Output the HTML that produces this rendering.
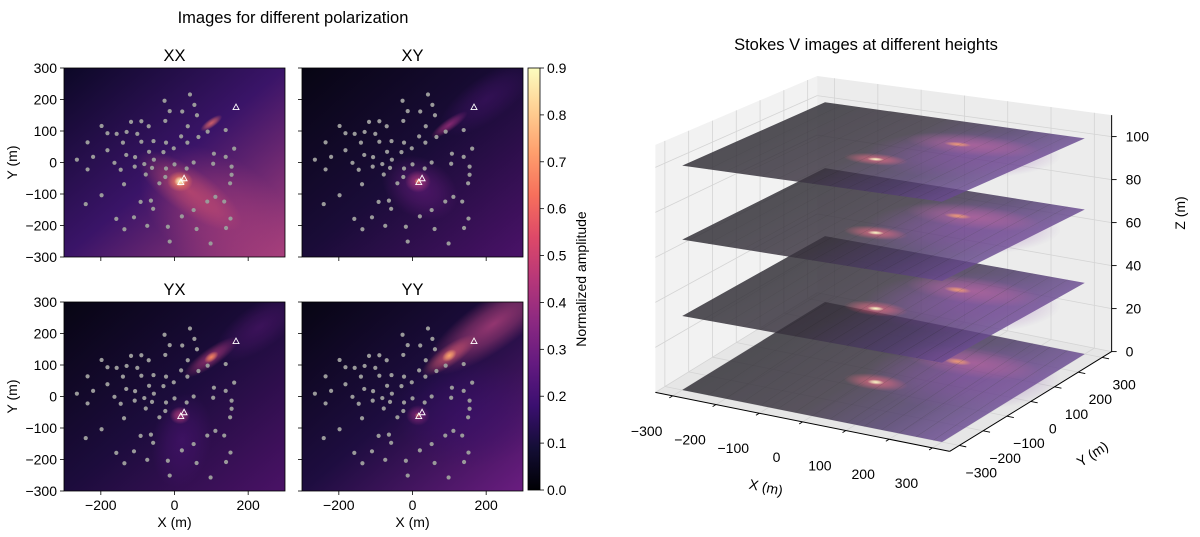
<!DOCTYPE html>
<html><head><meta charset="utf-8"><style>
html,body{margin:0;padding:0;background:#fff;}
svg{display:block;font-family:"Liberation Sans","DejaVu Sans",sans-serif;}
</style></head><body>
<svg id="fig" width="1200" height="537" viewBox="0 0 1200 537" xmlns="http://www.w3.org/2000/svg">
<defs id="defs">
<linearGradient id="magma" x1="0" y1="1" x2="0" y2="0">
<stop offset="0" stop-color="#000004"/><stop offset="0.1" stop-color="#140e36"/><stop offset="0.2" stop-color="#3b0f70"/><stop offset="0.3" stop-color="#641a80"/><stop offset="0.4" stop-color="#8c2981"/><stop offset="0.5" stop-color="#b73779"/><stop offset="0.6" stop-color="#de4968"/><stop offset="0.7" stop-color="#f7705c"/><stop offset="0.8" stop-color="#fe9f6d"/><stop offset="0.9" stop-color="#fecf92"/><stop offset="1" stop-color="#fcfdbf"/>
</linearGradient>
</defs>
<text x="293" y="23" font-size="16.5" text-anchor="middle">Images for different polarization</text>
<text x="866" y="50" font-size="16.5" text-anchor="middle">Stokes V images at different heights</text>
<g id="left"></g>
<g id="cbar"></g>
<g id="threed"></g>
</svg>
<script>
const NS="http://www.w3.org/2000/svg";
// ---- data ----
const stationX=[-265,-236,-236,-221,-198,-182,-182,-198,-241,-157,-163,-146,-140,-130,-131,-137,-118,-107,-108,-101,-90,-90,-82,-78,-70,-69,-57,-56,-61,-41,-30,-27,-25,-23,-23,-25,-13,-2,0,18,21,35,33,36,42,54,61,65,52,90,107,105,139,139,162,155,155,151,-158,-136,-110,-74,-92,-64,-58,-18,-13,20,52,60,89,111,98,135,140,152];
const stationY=[9,64,-22,18,116,93,39,-104,-132,91,-1,-23,63,97,24,-69,129,17,-13,91,131,66,-5,-38,115,34,68,9,-17,-66,33,196,132,63,-19,-46,163,45,-6,83,162,63,-19,115,216,183,150,81,0,98,28,-4,103,18,44,-13,-39,-66,-179,-212,-174,-201,-125,-121,-147,-204,-251,-171,-151,-211,-124,-109,-257,-124,-208,-178];
const triX=[167,26,17];
const triY=[176,-50,-62];
const panelNames=["XX","XY","YX","YY"];
// blobs: [x,y,rx,ry,rot,color,opacity]
const blobsXX=[[120,-160,240,150,35,"#b0407a",0.55],[40,-90,170,60,35,"#e0586c",0.55],[15,-60,35,28,0,"#f7805c",0.9],[15,-60,16,14,0,"#fcfdbf",1],[100,125,35,12,-35,"#f0706a",0.8]];
const blobsXY=[[20,-80,110,80,30,"#6a1d80",0.6],[15,-60,35,30,0,"#b03a7c",0.85],[15,-60,10,9,0,"#f7905c",0.9],[100,120,60,16,-35,"#a8327e",0.8],[200,200,150,60,-35,"#4a1470",0.5]];
const blobsYX=[[20,-140,80,130,10,"#4a1472",0.6],[15,-60,28,24,0,"#c04080",0.8],[100,125,90,25,-35,"#b03a7c",0.75],[100,125,22,12,-35,"#fa8a5e",0.95],[230,220,140,60,-35,"#5a1876",0.5]];
const blobsYY=[[220,230,220,70,-35,"#b0407c",0.8],[100,130,90,28,-35,"#d85a70",0.75],[100,130,22,14,-35,"#fdaa6c",0.95],[15,-60,32,28,0,"#a8327e",0.75],[15,-60,9,8,0,"#f7805c",0.9],[150,-50,200,150,0,"#3b0f70",0.5]];
const panelBlobs=[blobsXX,blobsXY,blobsYX,blobsYY];
const panelBase=[["#0c0826","#3a1468","#a8407c"],["#070513","#1a0c38","#4a1268"],["#070513","#1c0c3c","#4a1266"],["#070513","#1e0d40","#6a1d80"]];
const tickVals=[-300,-200,-100,0,100,200,300];
const xTickVals=[-200,0,200];
const cbTicks=[0,0.1,0.2,0.3,0.4,0.5,0.6,0.7,0.8,0.9];
const planeZ=[0,33,67,100];
const zTicks=[0,20,40,60,80,100];
const xyTicks3d=[-300,-200,-100,0,100,200,300];

const defs=document.getElementById('defs');
function el(tag,attrs,parent){const e=document.createElementNS(NS,tag);for(const k in attrs)e.setAttribute(k,attrs[k]);if(parent)parent.appendChild(e);return e;}
let gid=0;
function radGrad(color,op){const id="rg"+(gid++);const g=el('radialGradient',{id:id},defs);el('stop',{offset:0,'stop-color':color,'stop-opacity':op},g);el('stop',{offset:0.5,'stop-color':color,'stop-opacity':op*0.6},g);el('stop',{offset:1,'stop-color':color,'stop-opacity':0},g);return id;}

// ---- left panels ----
const left=document.getElementById('left');
const boxes=[[64,68],[302,68],[64,302],[302,302]];
const PW=221,PH=189;
panelNames.forEach((nm,i)=>{
  const [x0,y0]=boxes[i];
  const sx=v=>x0+(v+300)*PW/600, sy=v=>y0+(300-v)*PH/600;
  const g=el('g',{},left);
  
  
  const cid="clip"+i;const cp=el('clipPath',{id:cid},defs);el('rect',{x:x0,y:y0,width:PW,height:PH},cp);
  const lg="lg"+i;const L=el('linearGradient',{id:lg,x1:0,y1:0,x2:1,y2:1},defs);
  const b=panelBase[i];el('stop',{offset:0,'stop-color':b[0]},L);el('stop',{offset:0.5,'stop-color':b[1]},L);el('stop',{offset:1,'stop-color':b[2]},L);
  const hg=el('g',{'clip-path':`url(#${cid})`},g);
  el('rect',{x:x0,y:y0,width:PW,height:PH,fill:`url(#${lg})`},hg);
  panelBlobs[i].forEach(bb=>{
    const id=radGrad(bb[5],bb[6]);
    const e=el('ellipse',{cx:sx(bb[0]),cy:sy(bb[1]),rx:bb[2]*PW/600,ry:bb[3]*PW/600,fill:`url(#${id})`,transform:`rotate(${bb[4]} ${sx(bb[0])} ${sy(bb[1])})`},hg);
    
    
  });
  stationX.forEach((x,k)=>{const c=el('circle',{cx:sx(x),cy:sy(stationY[k]),r:2.1,fill:'#9a9a9a'},hg);
    
    });
  triX.forEach((x,k)=>{const px=sx(x),py=sy(triY[k]);const t=el('polygon',{points:`${px},${py-3} ${px-3},${py+2.5} ${px+3},${py+2.5}`,fill:'none',stroke:'#fff','stroke-width':0.9},hg);
    
    });
  el('rect',{x:x0,y:y0,width:PW,height:PH,fill:'none',stroke:'#000','stroke-width':0.8},g);
  const title=el('text',{x:x0+PW/2,y:y0-7,'font-size':16.5,'text-anchor':'middle'},g);title.textContent=nm;
  
  
  tickVals.forEach(v=>{el('line',{x1:x0,x2:x0-4,y1:sy(v),y2:sy(v),stroke:'#000','stroke-width':0.8},g);
    if(i%2==0){const t=el('text',{x:x0-7,y:sy(v)+5,'font-size':14,'text-anchor':'end'},g);t.textContent=v<0?'\u2212'+(-v):v;
    
    }});
  xTickVals.forEach(v=>{el('line',{x1:sx(v),x2:sx(v),y1:y0+PH,y2:y0+PH+4,stroke:'#000','stroke-width':0.8},g);
    if(i>=2){const t=el('text',{x:sx(v),y:y0+PH+19,'font-size':14,'text-anchor':'middle'},g);t.textContent=v<0?'\u2212'+(-v):v;
    
    }});
  if(i>=2){const t=el('text',{x:x0+PW/2,y:y0+PH+36,'font-size':14,'text-anchor':'middle'},g);t.textContent='X (m)';
    
    }
  if(i%2==0){const t=el('text',{x:17,y:y0+PH/2,'font-size':14,'text-anchor':'middle',transform:`rotate(-90 17 ${y0+PH/2})`},g);t.textContent='Y (m)';
    
    }
});

// ---- colorbar ----
const cb=document.getElementById('cbar');
const cbx=528,cbt=68,cbb=490,cbw=12;
const cr=el('rect',{x:cbx,y:cbt,width:cbw,height:cbb-cbt,fill:'url(#magma)',stroke:'#000','stroke-width':0.8},cb);


cbTicks.forEach(v=>{const y=cbb-(v/0.9)*(cbb-cbt);el('line',{x1:cbx+cbw,x2:cbx+cbw+4,y1:y,y2:y,stroke:'#000','stroke-width':0.8},cb);
  const t=el('text',{x:cbx+cbw+7,y:y+5,'font-size':14},cb);t.textContent=v.toFixed(1);
  
  });
const cbl=el('text',{x:586,y:279,'font-size':14,'text-anchor':'middle',transform:'rotate(-90 586 279)'},cb);cbl.textContent='Normalized amplitude';



// ---- 3D ----
const td=document.getElementById('threed');
const O=[883.5,372],EX=[0.433,0.0867],EY=[0.238,-0.1467],LIM=340;
function P(x,y,z){const u=x/LIM,v=y/LIM;const s=2.2+0.09*u-0.14*v;return [O[0]+x*EX[0]+y*EY[0], O[1]+x*EX[1]+y*EY[1]-z*s];}
const ZT=110;
function poly(pts,attrs){return el('polygon',Object.assign({points:pts.map(p=>p.join(',')).join(' ')},attrs),td);}
const pw1=poly([P(-LIM,-LIM,0),P(-LIM,LIM,0),P(-LIM,LIM,ZT),P(-LIM,-LIM,ZT)],{fill:'#f2f2f2',stroke:'none'});


const pw2=poly([P(-LIM,LIM,0),P(LIM,LIM,0),P(LIM,LIM,ZT),P(-LIM,LIM,ZT)],{fill:'#ececec',stroke:'none'});


const pw3=poly([P(-LIM,-LIM,0),P(LIM,-LIM,0),P(LIM,LIM,0),P(-LIM,LIM,0)],{fill:'#e6e6e6',stroke:'none'});


function ln(a,b,st,w){return el('line',{x1:a[0],y1:a[1],x2:b[0],y2:b[1],stroke:st,'stroke-width':w},td);}
xyTicks3d.forEach(v=>{
  ln(P(v,-LIM,0),P(v,LIM,0),'#d4d4d4',0.8);ln(P(v,LIM,0),P(v,LIM,ZT),'#d4d4d4',0.8);
  ln(P(-LIM,v,0),P(LIM,v,0),'#d4d4d4',0.8);ln(P(-LIM,v,0),P(-LIM,v,ZT),'#d4d4d4',0.8);
});
zTicks.forEach(z=>{ln(P(-LIM,-LIM,z),P(-LIM,LIM,z),'#d4d4d4',0.8);ln(P(-LIM,LIM,z),P(LIM,LIM,z),'#d4d4d4',0.8);});
// planes
const pg=el('linearGradient',{id:'planeg',x1:0,y1:0,x2:1,y2:0},defs);
el('stop',{offset:0,'stop-color':'#2e2c33'},pg);el('stop',{offset:0.45,'stop-color':'#3a3340'},pg);el('stop',{offset:0.75,'stop-color':'#4c3a68'},pg);el('stop',{offset:1,'stop-color':'#6a4a92'},pg);
const hot1=radGrad('#fcfdbf',1),hot1b=radGrad('#e0506c',0.8),hot2=radGrad('#f7905c',0.9),hot2b=radGrad('#b04a90',0.7),purp=radGrad('#7a3aa0',0.6);
planeZ.forEach((z,i)=>{
  const a=P(-300,-300,z),b=P(300,-300,z),c=P(-300,300,z);
  const ax=(b[0]-a[0])/600,ay=(b[1]-a[1])/600,cx=(c[0]-a[0])/600,cy=(c[1]-a[1])/600;
  const ex=a[0]+300*ax+300*cx,ey=a[1]+300*ay+300*cy;
  const g=el('g',{transform:`matrix(${ax},${ay},${-cx},${-cy},${ex},${ey})`,opacity:0.82},td);
  
  
  el('rect',{x:-300,y:-300,width:600,height:600,fill:'url(#planeg)'},g);
  el('ellipse',{cx:150,cy:-60,rx:200,ry:200,fill:`url(#${purp})`},g);
  el('ellipse',{cx:15,cy:60,rx:70,ry:45,fill:`url(#${hot1b})`},g);
  el('ellipse',{cx:15,cy:60,rx:18,ry:14,fill:`url(#${hot1})`},g);
  el('ellipse',{cx:130,cy:-140,rx:150,ry:80,fill:`url(#${hot2b})`},g);
  el('ellipse',{cx:100,cy:-130,rx:30,ry:18,fill:`url(#${hot2})`},g);
  for(let k=-260;k<=260;k+=40){el('line',{x1:k,y1:-300,x2:k+20,y2:300,stroke:'#1a1a1a','stroke-width':1.2,opacity:0.35},g);}
});
// axes lines
ln(P(-LIM,-LIM,0),P(LIM,-LIM,0),'#000',1);
ln(P(LIM,-LIM,0),P(LIM,LIM,0),'#000',1);
ln(P(LIM,LIM,0),P(LIM,LIM,ZT),'#000',1);
xyTicks3d.forEach(v=>{
  const p=P(v,-LIM,0),q=P(v,-LIM-14,0);ln(p,q,'#000',0.9);
  const t=el('text',{x:p[0]-26,y:p[1]+40,'font-size':14,'text-anchor':'middle'},td);t.textContent=v<0?'\u2212'+(-v):v;
  
  
  const p2=P(LIM,v,0),q2=P(LIM+16,v,0);ln(p2,q2,'#000',0.9);
  const t2=el('text',{x:p2[0]+22,y:p2[1]+32,'font-size':14,'text-anchor':'middle'},td);t2.textContent=v<0?'\u2212'+(-v):v;
  
  
});
zTicks.forEach(z=>{const p=P(LIM,LIM,z);ln(p,[p[0]+5,p[1]],'#000',0.9);
  const t=el('text',{x:p[0]+14,y:p[1]+5,'font-size':14},td);t.textContent=z;
  
  });
const xt=el('text',{x:765,y:492,'font-size':14,'text-anchor':'middle',transform:'rotate(12 765 492)'},td);xt.textContent='X (m)';


const yt=el('text',{x:1095,y:458,'font-size':14,'text-anchor':'middle',transform:'rotate(-33 1095 458)'},td);yt.textContent='Y (m)';


const zt=el('text',{x:1185,y:213,'font-size':14,'text-anchor':'middle',transform:'rotate(-90 1185 213)'},td);zt.textContent='Z (m)';


</script>
</body></html>
